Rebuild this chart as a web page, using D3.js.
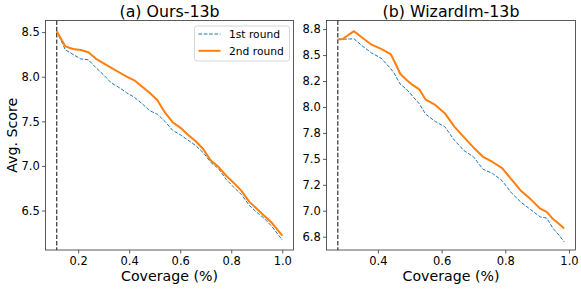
<!DOCTYPE html>
<html>
<head>
<meta charset="utf-8">
<script src="https://cdn.jsdelivr.net/npm/d3@7"></script>
<style>
  body { margin: 0; background: #fff; }
  text { font-family: "DejaVu Sans", sans-serif; fill: #000; }
</style>
</head>
<body>
<svg id="chart" width="581" height="289" viewBox="0 0 581 289"></svg>
<script>
// panel (a) Ours-13b
const coverageA = [0.116, 0.15, 0.18, 0.21, 0.24, 0.27, 0.30, 0.33, 0.36, 0.39, 0.42, 0.45, 0.48, 0.51, 0.54,
    0.57, 0.60, 0.63, 0.66, 0.69, 0.72, 0.75, 0.78, 0.81, 0.84, 0.87, 0.90, 0.93, 0.96, 1.0];
const round1A = [8.51, 8.30, 8.25, 8.20, 8.19, 8.10, 8.02, 7.93, 7.88, 7.82, 7.77, 7.70, 7.62, 7.58, 7.50,
    7.40, 7.35, 7.29, 7.23, 7.15, 7.04, 6.97, 6.85, 6.76, 6.68, 6.56, 6.48, 6.41, 6.32, 6.17];
const round2A = [8.51, 8.34, 8.31, 8.30, 8.275, 8.20, 8.15, 8.10, 8.05, 8.00, 7.96, 7.89, 7.82, 7.74, 7.60,
    7.49, 7.43, 7.35, 7.28, 7.19, 7.06, 6.99, 6.89, 6.81, 6.72, 6.60, 6.52, 6.44, 6.36, 6.22];

// panel (b) Wizardlm-13b
const coverageB = [0.274, 0.29, 0.31, 0.325, 0.35, 0.38, 0.41, 0.44, 0.45, 0.47, 0.49, 0.51, 0.53, 0.55, 0.58,
    0.61, 0.64, 0.67, 0.70, 0.73, 0.76, 0.79, 0.82, 0.85, 0.88, 0.91, 0.93, 0.95, 0.97, 0.985];
const round1B = [8.65, 8.653, 8.655, 8.656, 8.59, 8.52, 8.47, 8.37, 8.33, 8.22, 8.17, 8.10, 8.03, 7.93, 7.86,
    7.81, 7.68, 7.58, 7.52, 7.40, 7.36, 7.29, 7.17, 7.08, 7.01, 6.94, 6.93, 6.83, 6.76, 6.70];
const round2B = [8.65, 8.655, 8.70, 8.73, 8.67, 8.60, 8.56, 8.51, 8.45, 8.32, 8.26, 8.21, 8.17, 8.07, 8.02,
    7.94, 7.81, 7.71, 7.61, 7.52, 7.47, 7.41, 7.30, 7.19, 7.11, 7.02, 6.99, 6.92, 6.87, 6.83];

const xTicksA = [0.2, 0.4, 0.6, 0.8, 1.0];
const yTicksA = [6.5, 7.0, 7.5, 8.0, 8.5];
const xTicksB = [0.4, 0.6, 0.8, 1.0];
const yTicksB = [6.75, 7.0, 7.25, 7.5, 7.75, 8.0, 8.25, 8.5, 8.75];

const seriesNames = ["1st round", "2nd round"];
const colors = ["#1f77b4", "#ff7f0e"];

const svg = d3.select("#chart");

// one decimal, ties rounded to even (so 8.25 -> 8.2, 8.75 -> 8.8)
function fmt1(d) {
    const s = d * 10;
    const f = Math.floor(s);
    let r;
    if (Math.abs(s - f - 0.5) < 1e-9) r = (f % 2 === 0) ? f : f + 1;
    else r = Math.round(s);
    return (r / 10).toFixed(1);
}

function drawPanel(opts) {
    const { left, right, top, bottom, xDomain, yDomain, xs, ys, xTicks, yTicks, title, legend, ylabel } = opts;
    const x = d3.scaleLinear().domain(xDomain).range([left, right]);
    const y = d3.scaleLinear().domain(yDomain).range([bottom, top]);
    const g = svg.append("g");

    // vertical dashed line at start of coverage
    g.append("line")
        .attr("x1", x(xs[0])).attr("x2", x(xs[0]))
        .attr("y1", top).attr("y2", bottom)
        .attr("stroke", "#333").attr("stroke-width", 1.2)
        .attr("stroke-dasharray", "4.4,1.9");

    const line = d3.line().x((d, i) => x(xs[i])).y(d => y(d));

    g.append("path").datum(ys[0])
        .attr("d", line).attr("fill", "none")
        .attr("stroke", colors[0]).attr("stroke-width", 1)
        .attr("stroke-dasharray", "3.7,1.6");
    g.append("path").datum(ys[1])
        .attr("d", line).attr("fill", "none")
        .attr("stroke", colors[1]).attr("stroke-width", 2)
        .attr("stroke-linejoin", "round");

    // axes
    const xAxis = g.append("g").attr("transform", `translate(0,${bottom})`)
        .call(d3.axisBottom(x).tickValues(xTicks).tickFormat(fmt1).tickSize(3.5).tickPadding(3.5));
    const yAxis = g.append("g").attr("transform", `translate(${left},0)`)
        .call(d3.axisLeft(y).tickValues(yTicks).tickFormat(fmt1).tickSize(3.5).tickPadding(2.3));
    [xAxis, yAxis].forEach(a => {
        a.select(".domain").remove();
        a.selectAll("line").attr("stroke", "#333").attr("stroke-width", 0.8);
        a.selectAll("text").style("font-size", "11.5px").attr("fill", "#000");
    });

    // frame
    g.append("rect")
        .attr("x", left).attr("y", top)
        .attr("width", right - left).attr("height", bottom - top)
        .attr("fill", "none").attr("stroke", "#333").attr("stroke-width", 0.8);

    g.append("text")
        .attr("x", (left + right) / 2).attr("y", 16.7)
        .attr("text-anchor", "middle").style("font-size", "15.8px")
        .text(title);
    g.append("text")
        .attr("x", (left + right) / 2).attr("y", 281)
        .attr("text-anchor", "middle").style("font-size", "14.2px")
        .text("Coverage (%)");

    if (ylabel) {
        g.append("text")
            .attr("transform", `translate(16.5,${(top + bottom) / 2}) rotate(-90)`)
            .attr("text-anchor", "middle").style("font-size", "14.2px")
            .text(ylabel);
    }

    if (legend) {
        const lg = g.append("g").attr("transform", `translate(${right - 99},${top + 5.5})`);
        lg.append("rect")
            .attr("width", 95).attr("height", 35).attr("rx", 2.5)
            .attr("fill", "#fff").attr("fill-opacity", 0.8)
            .attr("stroke", "#ccc").attr("stroke-width", 0.8);
        seriesNames.forEach((name, i) => {
            const cy = 8 + i * 16.8;
            lg.append("line")
                .attr("x1", 4).attr("x2", 26).attr("y1", cy).attr("y2", cy)
                .attr("stroke", colors[i]).attr("stroke-width", i ? 2 : 1)
                .attr("stroke-dasharray", i ? null : "3.7,1.6");
            lg.append("text")
                .attr("x", 34.5).attr("y", cy + 4)
                .style("font-size", "10.7px")
                .text(name);
        });
    }
}

drawPanel({
    left: 45.5, right: 293.5, top: 20.5, bottom: 250,
    xDomain: [0.072, 1.044], yDomain: [6.058, 8.63],
    xs: coverageA, ys: [round1A, round2A],
    xTicks: xTicksA, yTicks: yTicksA,
    title: "(a) Ours-13b", legend: true, ylabel: "Avg. Score"
});

drawPanel({
    left: 326.5, right: 575.5, top: 20.5, bottom: 250,
    xDomain: [0.2385, 1.0205], yDomain: [6.622, 8.833],
    xs: coverageB, ys: [round1B, round2B],
    xTicks: xTicksB, yTicks: yTicksB,
    title: "(b) Wizardlm-13b", legend: false, ylabel: null
});
</script>
</body>
</html>
